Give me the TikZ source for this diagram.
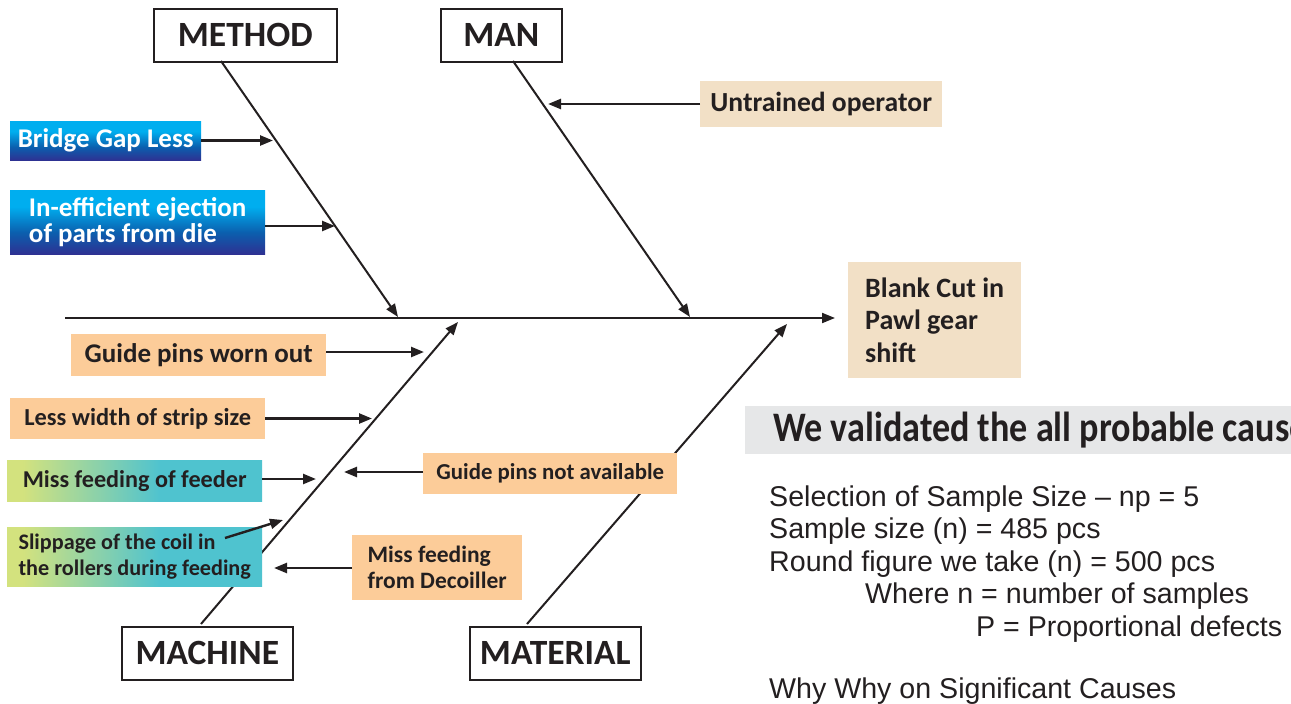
\documentclass[tikz,border=0pt]{standalone}
\usepackage{fontspec}
\setmainfont{Carlito}
\newfontfamily\arialf{Liberation Sans}
\usetikzlibrary{arrows.meta}
\definecolor{ink}{HTML}{231F20}
\definecolor{peach}{HTML}{FCCC99}
\definecolor{beige}{HTML}{F2E0C6}
\definecolor{band}{HTML}{E6E7E8}
\definecolor{btop}{HTML}{00AEEF}
\definecolor{bmid}{HTML}{0B5FAE}
\definecolor{bdark}{HTML}{2E3192}
\definecolor{glight}{HTML}{D3E27E}
\definecolor{gteal}{HTML}{4FC3CF}
\pgfdeclareverticalshading{blueshade}{100bp}{color(0bp)=(bdark); color(25bp)=(bdark); color(42bp)=(bmid); color(62bp)=(btop); color(100bp)=(btop)}
\pgfdeclarehorizontalshading{greenshade}{100bp}{color(0bp)=(glight); color(28bp)=(glight); color(55bp)=(gteal); color(100bp)=(gteal)}
\tikzset{
  lab/.style={font=\fontsize{27}{26}\selectfont\bfseries, text=ink, inner sep=0pt, anchor=north west, align=left},
  peachbox/.style={lab, fill=peach},
  beigebox/.style={lab, fill=beige},
  bluebox/.style={lab, shading=blueshade, text=white},
  greenbox/.style={lab, shading=greenshade},
  catbox/.style={draw=ink, line width=1.6pt, inner sep=0pt, anchor=north west, font=\fontsize{35.5}{38}\selectfont\bfseries, text=ink},
  arr/.style={draw=ink, line width=2.4pt, -{Triangle[length=13pt,width=10pt]}},
  bone/.style={draw=ink, line width=2pt, -{Triangle[length=13pt,width=10pt]}},
  rtext/.style={anchor=base west, inner sep=0pt, font=\arialf\fontsize{28.6}{32}\selectfont, text=ink}
}
\begin{document}
\begin{tikzpicture}[x=1pt,y=-1pt]
\useasboundingbox (0,0) rectangle (1291,704);
\clip (0,0) rectangle (1291,704);
% category boxes
\node[catbox, minimum width=183pt, minimum height=53pt] (method) at (153,8) {METHOD};
\node[catbox, minimum width=121pt, minimum height=53pt] (man) at (440,8) {MAN};
\node[catbox, minimum width=171pt, minimum height=53pt] (machine) at (121,626) {MACHINE};
\node[catbox, minimum width=171pt, minimum height=53pt] (material) at (469,626) {MATERIAL};
% effect
\node[beigebox, minimum width=173pt, minimum height=116pt, font=\fontsize{28}{32.5}\selectfont\bfseries] (effect) at (848,262) {Blank Cut in\\Pawl gear\\shift};
% spine
\coordinate (spL) at (65,318);
\draw[bone, shorten >=13pt] (spL) -- (effect.west |- spL);
% bones
\coordinate (b1s) at (221,61); \coordinate (b1e) at (398,317);
\coordinate (b2s) at (513,61); \coordinate (b2e) at (690,317);
\coordinate (b3s) at (201,624); \coordinate (b3e) at (458,322);
\coordinate (b4s) at (527,624); \coordinate (b4e) at (787,324);
\draw[bone] (b1s) -- (b1e);
\draw[bone] (b2s) -- (b2e);
\draw[bone] (b3s) -- (b3e);
\draw[bone] (b4s) -- (b4e);
% causes
\node[beigebox, minimum width=242pt, minimum height=46pt, font=\fontsize{27.6}{26}\selectfont\bfseries] (untrained) at (700,81) {Untrained operator};
\node[bluebox, minimum width=191pt, minimum height=39pt] (bridge) at (10,121) {Bridge Gap Less};
\node[bluebox, minimum width=255pt, minimum height=64pt] (ineff) at (10,190) {In-efficient ejection\\of parts from die};
\node[peachbox, minimum width=255pt, minimum height=42pt] (worn) at (71,334) {Guide pins worn out};
\node[peachbox, minimum width=255pt, minimum height=41pt, font=\fontsize{24.4}{26}\selectfont\bfseries] (less) at (10,398) {Less width of strip size};
\node[greenbox, minimum width=255pt, minimum height=41pt, font=\fontsize{24.2}{26}\selectfont\bfseries] (feeder) at (7,460) {Miss feeding of feeder};
\node[greenbox, minimum width=255pt, minimum height=59pt, font=\fontsize{22.2}{26}\selectfont\bfseries] (slip) at (7,527) {Slippage of the coil in\\the rollers during feeding};
\node[peachbox, minimum width=254pt, minimum height=41pt, font=\fontsize{22.8}{26}\selectfont\bfseries] (notavail) at (423,453) {Guide pins not available};
\node[peachbox, minimum width=170pt, minimum height=65pt, font=\fontsize{23.5}{26}\selectfont\bfseries] (decoil) at (352,535) {Miss feeding\\from Decoiller};
% cause arrows
\coordinate (a1) at (548,104);
\draw[arr] (untrained.west |- a1) -- (a1);
\coordinate (a2) at (273,140.5);
\draw[arr] (bridge.east |- a2) -- (a2);
\coordinate (a3) at (335,226);
\draw[arr] (ineff.east |- a3) -- (a3);
\coordinate (a4) at (424,352);
\draw[arr] (worn.east |- a4) -- (a4);
\coordinate (a5) at (372,418.5);
\draw[arr] (less.east |- a5) -- (a5);
\coordinate (a6) at (316,479);
\draw[arr] (feeder.east |- a6) -- (a6);
\coordinate (a7s) at (225,538); \coordinate (a7) at (283,520);
\draw[arr] (a7s) -- (a7);
\coordinate (a8) at (344,472);
\draw[arr] (notavail.west |- a8) -- (a8);
\coordinate (a9) at (274,568);
\draw[arr] (decoil.west |- a9) -- (a9);
% right side text
\fill[band] (745,406) rectangle (1291,454);
\node[anchor=base west, inner sep=0pt, text=ink, font=\fontsize{42}{44}\selectfont\bfseries] (head) at (773,441) {\scalebox{0.86}[1]{We validated the all probable cause}};
\node[rtext] (l1) at (769,506) {Selection of Sample Size – np = 5};
\node[rtext] (l2) at (769,538.5) {Sample size (n) = 485 pcs};
\node[rtext] (l3) at (769,571) {Round figure we take (n) = 500 pcs};
\node[rtext] (l4) at (865,603.5) {Where n = number of samples};
\node[rtext] (l5) at (976,636) {P = Proportional defects};
\node[rtext] (l6) at (769,698) {Why Why on Significant Causes};
\end{tikzpicture}
\end{document}
